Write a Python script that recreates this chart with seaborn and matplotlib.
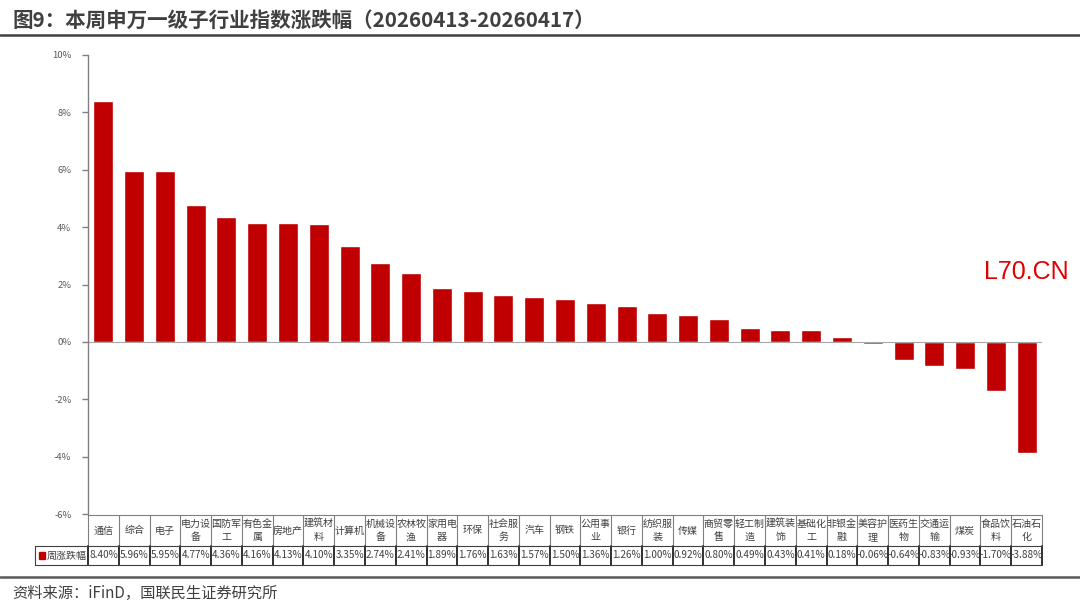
import numpy as np
import pandas as pd
import matplotlib
matplotlib.use("Agg")
import matplotlib.pyplot as plt
import matplotlib.transforms as mtransforms
from matplotlib.lines import Line2D
from matplotlib.patches import Rectangle
import seaborn as sns

# data
industries = ['通信', '综合', '电子', '电力设\n备', '国防军\n工', '有色金\n属', '房地产',
              '建筑材\n料', '计算机', '机械设\n备', '农林牧\n渔', '家用电\n器', '环保',
              '社会服\n务', '汽车', '钢铁', '公用事\n业', '银行', '纺织服\n装', '传媒',
              '商贸零\n售', '轻工制\n造', '建筑装\n饰', '基础化\n工', '非银金\n融',
              '美容护\n理', '医药生\n物', '交通运\n输', '煤炭', '食品饮\n料', '石油石\n化']
weekly_change = [8.40, 5.96, 5.95, 4.77, 4.36, 4.16, 4.13, 4.10, 3.35, 2.74, 2.41, 1.89,
                 1.76, 1.63, 1.57, 1.50, 1.36, 1.26, 1.00, 0.92, 0.80, 0.49, 0.43, 0.41,
                 0.18, -0.06, -0.64, -0.83, -0.93, -1.70, -3.88]
series_name = '周涨跌幅'
y_ticks = [-6, -4, -2, 0, 2, 4, 6, 8, 10]

sns.set_style("white")
plt.rcParams['font.family'] = ['Noto Sans CJK SC', 'DejaVu Sans']

df = pd.DataFrame({'industry': industries, 'change': weekly_change})

W, H = 1080, 603
fig = plt.figure(figsize=(W / 100, H / 100), dpi=100)
fy = lambda y: 1 - y / H
fx = lambda x: x / W

ax = fig.add_axes([fx(88), fy(514), fx(1042) - fx(88), fy(55) - fy(514)])
sns.barplot(data=df, x='industry', y='change', color='#C00000', width=0.65,
            saturation=1, ax=ax)
ax.set_xlim(-0.5, len(industries) - 0.5)
ax.set_ylim(-6, 10)
ax.set_yticks(y_ticks)
ax.set_yticklabels([f'{t}%' for t in y_ticks], fontsize=6.8, color='#595959')
ax.set_xticks([])
ax.set_xlabel('')
ax.set_ylabel('')
for s in ['top', 'right', 'bottom']:
    ax.spines[s].set_visible(False)
ax.spines['left'].set_color('#808080')
ax.spines['left'].set_linewidth(1)
ax.tick_params(axis='y', length=4, width=1, color='#808080', direction='out', pad=8, left=True)
ax.axhline(0, color='#a6a6a6', lw=0.8)

# data table under the chart
tr = mtransforms.blended_transform_factory(ax.transData, fig.transFigure)
t_top, t_mid, t_bot = fy(515), fy(546), fy(565)
n = len(industries)
grid = '#7f7f7f'
fig.add_artist(Line2D([fx(88), fx(1042)], [t_top, t_top], color=grid, lw=0.8))
fig.add_artist(Line2D([fx(35), fx(1042)], [t_mid, t_mid], color='#404040', lw=0.8))
fig.add_artist(Line2D([fx(35), fx(1042)], [t_bot, t_bot], color='#404040', lw=0.8))
fig.add_artist(Line2D([fx(35), fx(35)], [t_mid, t_bot], color='#404040', lw=0.8))
for i in range(n + 1):
    ax.add_artist(Line2D([i - 0.5, i - 0.5], [t_top, t_mid], color=grid, lw=0.8,
                         transform=tr, clip_on=False))
    ax.add_artist(Line2D([i - 0.5, i - 0.5], [t_mid, t_bot], color='#202020', lw=1.3,
                         transform=tr, clip_on=False))
for i, (name, v) in enumerate(zip(industries, weekly_change)):
    ax.text(i, (t_top + t_mid) / 2, name, transform=tr, ha='center', va='center',
            fontsize=7.2, color='#404040', linespacing=1.45)
    ax.text(i, (t_mid + t_bot) / 2, f'{v:.2f}%', transform=tr, ha='center', va='center',
            fontsize=7.2, color='#404040')
fig.add_artist(Rectangle((fx(39), (t_mid + t_bot) / 2 - 0.005), fx(6), 0.010,
                         color='#C00000', transform=fig.transFigure))
fig.text(fx(47), (t_mid + t_bot) / 2, series_name, ha='left', va='center',
         fontsize=7.2, color='#404040')

# title, source and rules
fig.text(fx(12), fy(20), '图9：本周申万一级子行业指数涨跌幅（20260413-20260417）',
         ha='left', va='center', fontsize=14.8, fontweight='bold', color='#404040')
fig.add_artist(Line2D([0, 1], [fy(35), fy(35)], color='#404040', lw=1.8))
fig.add_artist(Line2D([0, 1], [fy(577), fy(577)], color='#595959', lw=1.8))
fig.text(fx(12), fy(593), '资料来源：iFinD，国联民生证券研究所', ha='left', va='center',
         fontsize=11, color='#404040')
fig.text(fx(984), fy(272), 'L70.CN', ha='left', va='center', fontsize=18,
         color='#E00000', family=['Liberation Sans', 'DejaVu Sans'])

fig.savefig('out.png', dpi=100)
